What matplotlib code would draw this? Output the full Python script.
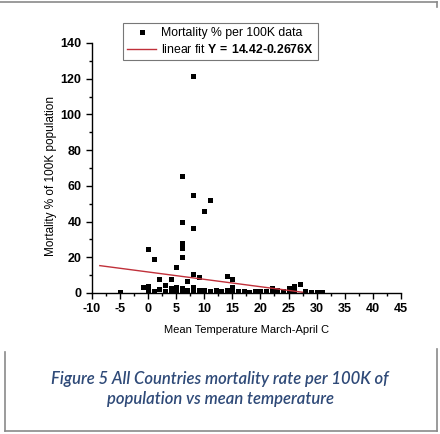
import numpy as np
import matplotlib
matplotlib.use("Agg")
from matplotlib import pyplot as plt
from matplotlib.lines import Line2D
from matplotlib.ticker import MultipleLocator

plt.rcParams['font.family'] = ['Liberation Sans', 'DejaVu Sans']
plt.rcParams['axes.unicode_minus'] = False
plt.rcParams['mathtext.fontset'] = 'custom'
plt.rcParams['mathtext.rm'] = 'Liberation Sans'
plt.rcParams['mathtext.bf'] = 'Liberation Sans:bold'

# scattered (high) countries
temp_high = [8, 6, 8, 11, 10, 6, 8, 6, 6, 0, 6, 1, 5, 8, 14, 9, 2, 4, 15, 7, -1, -5]
mort_high = [121.5, 65.7, 54.7, 52, 45.9, 39.6, 36.2, 27.8, 25, 24.4, 20.3, 18.9,
             14.7, 10.4, 9.7, 8.8, 7.8, 7.8, 7.7, 6.9, 3.5, 0.7]

# low band near zero
temp_low = [0, 0, 1, 2, 3, 3, 4, 4, 5, 5, 6, 6, 7, 8, 8, 9, 10, 11, 12, 13, 14,
            15, 15, 16, 17, 18, 19, 20, 21, 22, 22, 23, 24, 25, 25, 26, 26, 27,
            28, 29, 30, 31]
mort_low = [4.0, 1.5, 1.2, 2.0, 4.2, 1.0, 2.5, 1.0, 3.5, 1.2, 3.0, 1.0, 1.8,
            3.5, 1.2, 1.5, 1.5, 1.2, 1.5, 1.0, 1.8, 3.2, 1.0, 1.3, 1.0, 0.8,
            1.0, 1.0, 1.2, 2.6, 1.0, 1.5, 1.0, 2.8, 1.0, 3.8, 1.5, 5.0, 1.0,
            0.7, 0.7, 0.5]

# fitted line as drawn
fit_x = [-8.6, 27.5]
fit_y = [15.3, 0.4]

temps = temp_high + temp_low
morts = mort_high + mort_low

fig = plt.figure(figsize=(4.4, 4.34), dpi=100)
ax = fig.add_axes([0.209, 0.325, 0.702, 0.576])

ax.plot(temps, morts, 's', color='black', ms=3.6, mew=0,
        label='Mortality % per 100K data')
ax.plot(fit_x, fit_y, color='#c0303a', lw=1.0,
        label='linear fit $\\mathbf{Y\\,=\\,14.42\u20100.2676X}$')

ax.set_xlim(-10, 45)
ax.set_ylim(0, 140)
ax.xaxis.set_major_locator(MultipleLocator(5))
ax.xaxis.set_minor_locator(MultipleLocator(2.5))
ax.yaxis.set_major_locator(MultipleLocator(20))
ax.yaxis.set_minor_locator(MultipleLocator(10))
ax.tick_params(which='major', length=4.5, width=1.0, labelsize=9, pad=3)
ax.tick_params(which='minor', length=2.5, width=1.0)
for lab in ax.get_xticklabels() + ax.get_yticklabels():
    lab.set_fontweight('bold')
for s in ['top', 'right']:
    ax.spines[s].set_visible(False)
for s in ['left', 'bottom']:
    ax.spines[s].set_linewidth(1.0)

ax.set_xlabel('Mean Temperature March-April C', fontsize=8, labelpad=7)
ax.set_ylabel('Mortality % of 100K population', fontsize=8.5, va='center')
ax.yaxis.set_label_coords(-0.133, 0.468)

leg = ax.legend(loc='upper left', bbox_to_anchor=(0.28, 0.947),
                bbox_transform=fig.transFigure, borderaxespad=0,
                fontsize=8.8, frameon=True, fancybox=False, handlelength=2.3,
                handletextpad=0.45, borderpad=0.35, labelspacing=0.3)
leg.get_frame().set_edgecolor('#555555')
leg.get_frame().set_linewidth(0.8)

# frame lines around caption
gray = '#8a8a8a'
fig.add_artist(Line2D([0, 0.993], [0.995, 0.995], color=gray, lw=1.2, transform=fig.transFigure))
fig.add_artist(Line2D([0.993, 0.993], [0.995, 0.985], color=gray, lw=1.2, transform=fig.transFigure))
fig.add_artist(Line2D([0.012, 0.012], [0.19, 0.008], color=gray, lw=1.2, transform=fig.transFigure))
fig.add_artist(Line2D([0.993, 0.993], [0.195, 0.008], color=gray, lw=1.2, transform=fig.transFigure))
fig.add_artist(Line2D([0.012, 0.993], [0.008, 0.008], color=gray, lw=1.2, transform=fig.transFigure))

fig.text(0.5, 0.104, 'Figure 5 All Countries mortality rate per 100K of\npopulation vs mean temperature',
         ha='center', va='center', fontsize=12, style='italic', fontweight='semibold',
         color='#2f4a78', family='Lato', linespacing=1.3)

fig.savefig('out.png', dpi=100)
